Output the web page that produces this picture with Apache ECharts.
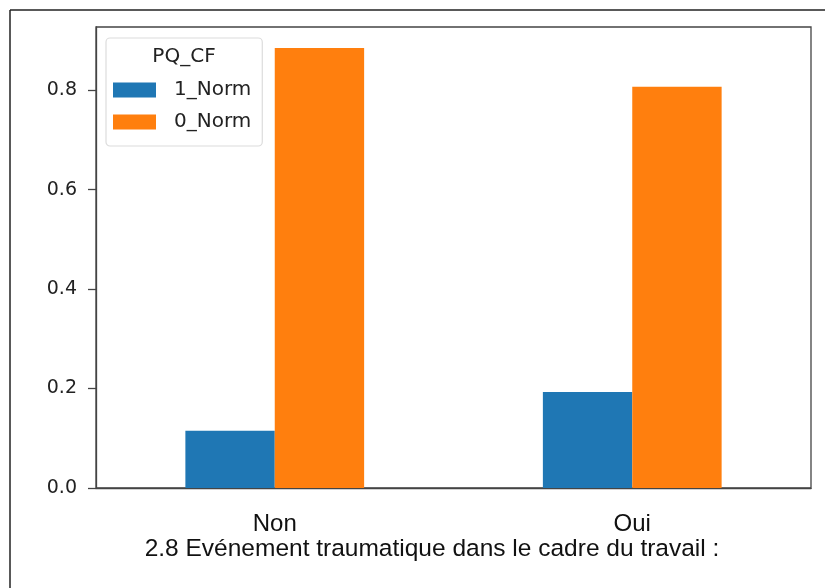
<!DOCTYPE html>
<html>
<head>
<meta charset="utf-8">
<script src="https://cdn.jsdelivr.net/npm/echarts@6/dist/echarts.min.js"></script>
<style>
html,body{margin:0;padding:0;background:#fff;}
#c{width:825px;height:588px;}
</style>
</head>
<body>
<div id="c"></div>
<script>
var categories = ['Non', 'Oui'];
var seriesNames = ['1_Norm', '0_Norm'];
var norm1 = [0.115, 0.193];
var norm0 = [0.885, 0.807];
var yTicks = [0.0, 0.2, 0.4, 0.6, 0.8];
var legendTitle = 'PQ_CF';
var xTitle = '2.8 Evénement traumatique dans le cadre du travail :';

var chart = echarts.init(document.getElementById('c'), null, {renderer: 'canvas'});
var option = {
  backgroundColor: '#ffffff',
  animation: false,
  grid: {
    left: 96, top: 27, right: 14, bottom: 100,
    show: true, borderColor: '#444', borderWidth: 1.3, backgroundColor: 'transparent'
  },
  legend: {
    data: seriesNames,
    orient: 'vertical',
    left: 106, top: 38,
    itemWidth: 43, itemHeight: 15, itemGap: 12,
    padding: [42, 11, 14, 7],
    backgroundColor: '#fff',
    borderColor: '#dcdcdc', borderWidth: 1.2, borderRadius: 4,
    icon: 'rect',
    textStyle: {fontFamily: 'DejaVu Sans', fontSize: 20, color: '#222', padding: [0, 0, 0, 13]}
  },
  xAxis: {
    type: 'category',
    data: categories,
    axisLine: {lineStyle: {color: '#444', width: 1.3}},
    axisTick: {alignWithLabel: true, length: 8, lineStyle: {color: '#444', width: 1.3}},
    axisLabel: {fontFamily: 'Liberation Sans', fontSize: 24, color: '#111', margin: 24}
  },
  yAxis: {
    type: 'value',
    min: 0, max: 0.927,
    splitLine: {show: false},
    axisLine: {show: true, lineStyle: {color: '#444', width: 1.3}},
    axisTick: {show: true, length: 8, customValues: yTicks, lineStyle: {color: '#444', width: 1.3}},
    axisLabel: {
      customValues: yTicks,
      fontFamily: 'DejaVu Sans', fontSize: 19, color: '#222', margin: 19,
      formatter: function (v) { return v.toFixed(1); }
    }
  },
  series: [
    {name: seriesNames[0], type: 'bar', data: norm1, barGap: '0%', barCategoryGap: '50%',
     itemStyle: {color: '#1f77b4'}},
    {name: seriesNames[1], type: 'bar', data: norm0, barGap: '0%', barCategoryGap: '50%',
     itemStyle: {color: '#ff7f0e'}}
  ],
  graphic: [
    {type: 'line', shape: {x1: 10, y1: 10, x2: 825, y2: 10}, style: {stroke: '#222', lineWidth: 1.5}, silent: true},
    {type: 'line', shape: {x1: 10, y1: 10, x2: 10, y2: 588}, style: {stroke: '#222', lineWidth: 1.5}, silent: true},
    {type: 'text', x: 184, y: 57, z: 100,
     style: {text: legendTitle, fontFamily: 'DejaVu Sans', fontSize: 20, fill: '#222', textAlign: 'center', textVerticalAlign: 'middle'}},
    {type: 'text', x: 432, y: 549, z: 100,
     style: {text: xTitle, fontFamily: 'Liberation Sans', fontSize: 24.5, fill: '#111', textAlign: 'center', textVerticalAlign: 'middle'}}
  ]
};
chart.setOption(option);
</script>
</body>
</html>
